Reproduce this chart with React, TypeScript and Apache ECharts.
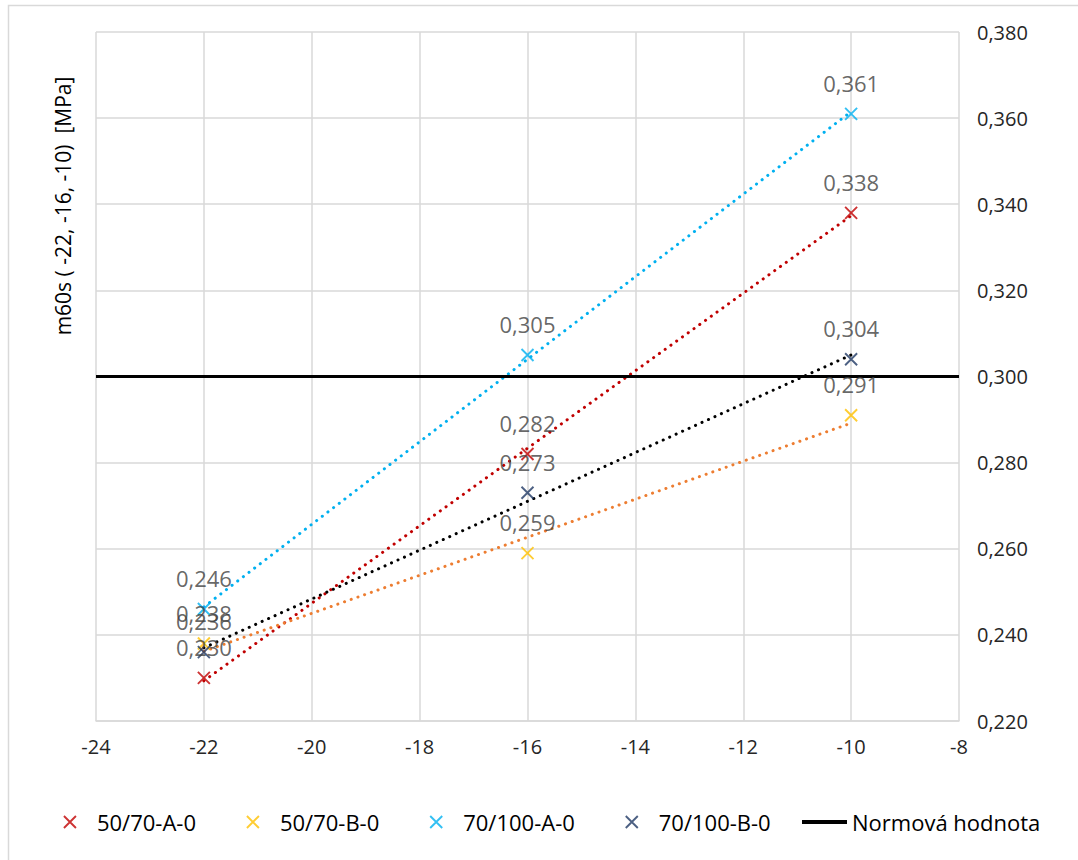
import React, { useEffect, useRef } from "react";
import * as echarts from "echarts";

const temps = [-22, -16, -10];
const seriesNames = ["50/70-A-0", "50/70-B-0", "70/100-A-0", "70/100-B-0"];
const valsA5070 = [0.230, 0.282, 0.338];
const valsB5070 = [0.238, 0.259, 0.291];
const valsA70100 = [0.246, 0.305, 0.361];
const valsB70100 = [0.236, 0.273, 0.304];
const markerColors = ["#C00000", "#FFC000", "#00B0F0", "#1F3864"];
const trendColors = ["#C00000", "#ED7D31", "#00B0F0", "#000000"];
const normName = "Normová hodnota";
const normValue = 0.3;
const xTicks = { min: -24, max: -8, interval: 2 };
const yTicks = { min: 0.22, max: 0.38, interval: 0.02 };

const allVals = [valsA5070, valsB5070, valsA70100, valsB70100];

function linFit(xs: number[], ys: number[]) {
  const n = xs.length;
  const mx = xs.reduce((a, b) => a + b, 0) / n;
  const my = ys.reduce((a, b) => a + b, 0) / n;
  let sxy = 0, sxx = 0;
  for (let i = 0; i < n; i++) {
    sxy += (xs[i] - mx) * (ys[i] - my);
    sxx += (xs[i] - mx) * (xs[i] - mx);
  }
  const b = sxy / sxx;
  const a = my - b * mx;
  return [[xs[0], a + b * xs[0]], [xs[n - 1], a + b * xs[n - 1]]];
}

const X_PATH = "path://M0,0L10,10M10,0L0,10";
const FONT = "'Open Sans', 'Noto Sans', sans-serif";

export default function App() {
  const ref = useRef<HTMLDivElement>(null);
  useEffect(() => {
    if (!ref.current) return;
    const chart = echarts.init(ref.current, undefined, { renderer: "svg" });
    const series: any[] = [];
    allVals.forEach((vals, i) => {
      series.push({
        name: seriesNames[i] + " trend",
        type: "line",
        data: linFit(temps, vals),
        symbol: "none",
        lineStyle: { color: trendColors[i], width: 3, type: [0.1, 7], cap: "round" },
        z: 2,
        silent: true,
      });
    });
    series.push({
      name: normName,
      type: "line",
      data: [[xTicks.min, normValue], [xTicks.max, normValue]],
      symbol: "none",
      lineStyle: { color: "#000000", width: 3 },
      itemStyle: { color: "#000000" },
      z: 3,
    });
    allVals.forEach((vals, i) => {
      series.push({
        name: seriesNames[i],
        type: "scatter",
        data: temps.map((t, j) => [t, vals[j]]),
        symbol: X_PATH,
        symbolSize: 12,
        itemStyle: { color: "rgba(0,0,0,0)", borderColor: markerColors[i], borderWidth: 1.9 },
        label: {
          show: true,
          position: "top",
          distance: 13,
          color: "#404040",
          fontSize: 22,
          fontFamily: FONT,
          formatter: (p: any) => p.value[1].toFixed(3).replace(".", ","),
        },
        z: 5,
      });
    });
    const xLegendItem = (i: number) => ({
      name: seriesNames[i],
      icon: X_PATH,
      itemStyle: { color: "rgba(0,0,0,0)", borderColor: markerColors[i], borderWidth: 1.9 },
    });
    chart.setOption({
      animation: false,
      backgroundColor: "#ffffff",
      grid: { left: 96, right: 119, top: 32, bottom: 139, containLabel: false },
      xAxis: {
        type: "value",
        min: xTicks.min,
        max: xTicks.max,
        interval: xTicks.interval,
        axisLine: { show: true, onZero: false, lineStyle: { color: "#d9d9d9", width: 1.5 } },
        axisTick: { show: false },
        axisLabel: { color: "#262626", fontSize: 20, fontFamily: FONT, margin: 15 },
        splitLine: { show: true, lineStyle: { color: "#d9d9d9", width: 1.5 } },
      },
      yAxis: {
        type: "value",
        position: "right",
        min: yTicks.min,
        max: yTicks.max,
        interval: yTicks.interval,
        axisLine: { show: false },
        axisTick: { show: false },
        axisLabel: {
          color: "#262626",
          fontSize: 20,
          fontFamily: FONT,
          margin: 18,
          formatter: (v: number) => v.toFixed(3).replace(".", ","),
        },
        splitLine: { show: true, lineStyle: { color: "#d9d9d9", width: 1.5 } },
      },
      legend: [
        {
          data: [xLegendItem(0), xLegendItem(1), xLegendItem(2), xLegendItem(3)],
          left: 58,
          top: 806,
          itemWidth: 44,
          itemHeight: 12,
          itemGap: 50,
          textStyle: { color: "#000000", fontSize: 22, fontFamily: FONT },
        },
        {
          data: [{ name: normName, icon: "rect", itemStyle: { color: "#000000" } }],
          left: 797,
          top: 806,
          itemWidth: 45,
          itemHeight: 4,
          textStyle: { color: "#000000", fontSize: 22, fontFamily: FONT },
        },
      ],
      graphic: [
        {
          type: "rect",
          shape: { x: 8.5, y: 5.5, width: 1100, height: 900 },
          style: { fill: "none", stroke: "#d9d9d9", lineWidth: 1.5 },
          silent: true,
        },
        {
          type: "text",
          x: 63,
          y: 206,
          rotation: Math.PI / 2,
          style: {
            text: "m60s ( -22, -16, -10)  [MPa]",
            fill: "#000000",
            fontSize: 21,
            fontFamily: FONT,
            align: "center",
            verticalAlign: "middle",
          },
        },
      ],
      series,
    });
    return () => chart.dispose();
  }, []);
  return (
    <div
      ref={ref}
      style={{ position: "absolute", left: 0, top: 0, width: 1078, height: 860 }}
    />
  );
}
